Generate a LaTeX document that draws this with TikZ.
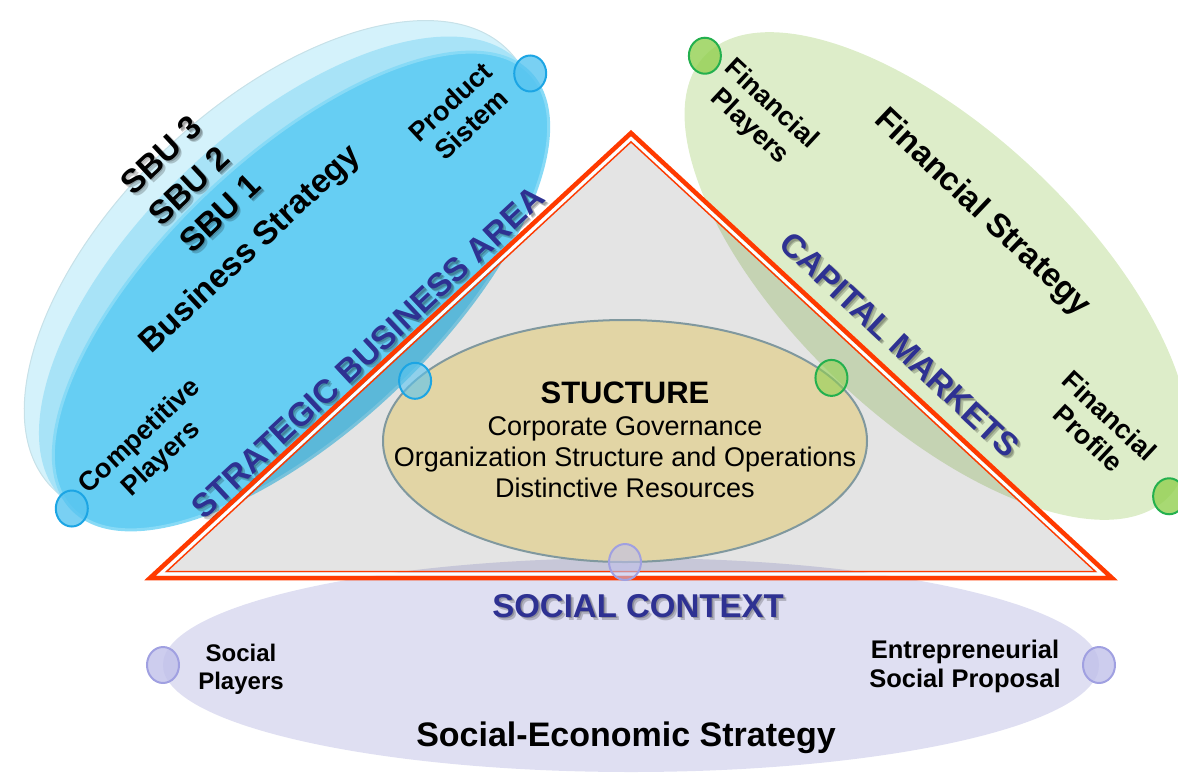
\documentclass[tikz,border=0pt]{standalone}
\usepackage{fontspec}
\setmainfont{Liberation Sans}
\usetikzlibrary{shapes.geometric}

\definecolor{sbuback}{RGB}{212,242,251}
\definecolor{sbumid}{RGB}{168,227,247}
\definecolor{sbufront}{RGB}{102,206,243}
\definecolor{sburim}{RGB}{135,218,246}
\definecolor{fingreen}{RGB}{221,237,201}
\definecolor{soclav}{RGB}{223,223,242}
\definecolor{strutan}{RGB}{226,213,165}
\definecolor{struedge}{RGB}{128,152,158}
\definecolor{trigray}{RGB}{228,228,228}
\definecolor{trired}{RGB}{255,58,0}
\definecolor{navy}{RGB}{46,49,146}
\definecolor{dotblue}{RGB}{28,165,228}
\definecolor{dotbluefill}{RGB}{88,196,240}
\definecolor{dotgreen}{RGB}{36,176,78}
\definecolor{dotgreenfill}{RGB}{146,208,80}
\definecolor{dotlav}{RGB}{160,160,225}
\definecolor{dotlavfill}{RGB}{192,192,234}

\tikzset{
  blob/.style={ellipse, inner sep=0pt, outer sep=0pt},
  spot/.style={ellipse, inner sep=0pt, minimum width=32pt, minimum height=36pt, line width=2pt, fill opacity=0.8},
  tag/.style={font=\fontsize{27}{31}\selectfont\bfseries, align=center, inner sep=0pt},
  big/.style={font=\fontsize{33}{38}\selectfont\bfseries, inner sep=0pt},
  area/.style={big, text=navy},
  haze/.style={text=black, text opacity=0.2},
}

\begin{document}
\begin{tikzpicture}[x=1pt,y=-1pt]
\clip (0,0) rectangle (1178,774);

% business strategy, one disc per SBU
\node[blob, fill=sbuback, draw=sbuback!85!gray, line width=1pt, minimum width=632pt, minimum height=332pt, rotate=43.5] (sbu3) at (280.4,269.2) {};
\node[blob, fill=sbumid, minimum width=632pt, minimum height=302pt, rotate=43.5] (sbu2) at (290.7,280.1) {};
\node[blob, fill=sbufront, draw=sburim, line width=3pt, minimum width=632pt, minimum height=272pt, rotate=43.5] (sbu1) at (301,291) {};

\node[blob, fill=fingreen, minimum width=640pt, minimum height=288pt, rotate=-43.5] (fin) at (937,276) {};
\node[blob, fill=soclav, minimum width=936pt, minimum height=214pt] (soc) at (631,665) {};

% the triangle
\coordinate (apex) at (631,133);
\coordinate (bl) at (150,578);
\coordinate (br) at (1112,578);
\coordinate (apex1) at (631,138.4);
\coordinate (bl1) at (160.2,574);
\coordinate (br1) at (1101.8,574);
\coordinate (apex2) at (631,141.9);
\coordinate (bl2) at (166.6,571.5);
\coordinate (br2) at (1095.4,571.5);
\fill[trigray, blend mode=multiply] (bl) -- (apex) -- (br) -- cycle;

\node[blob, fill=strutan, draw=struedge, line width=2pt, minimum width=484pt, minimum height=242pt] (stru) at (625,441) {};

\draw[white, line width=3pt] (bl1) -- (apex1) -- (br1) -- cycle;
\draw[trired, line width=1.4pt] (bl2) -- (apex2) -- (br2) -- cycle;
\draw[trired, line width=4.5pt, line join=miter] (bl) -- (apex) -- (br) -- cycle;

% dots
\node[spot, fill=dotbluefill, draw=dotblue] (pdot) at (sbu1.east) {};
\node[spot, fill=dotbluefill, draw=dotblue] (cdot) at (sbu1.west) {};
\node[spot, fill=dotbluefill, fill opacity=0.6, draw=dotblue] (sbdot) at (stru.164) {};
\node[spot, fill=dotgreenfill, draw=dotgreen] (fpdot) at (fin.west) {};
\node[spot, fill=dotgreenfill, draw=dotgreen] (frdot) at (fin.east) {};
\node[spot, fill=dotgreenfill, fill opacity=0.6, draw=dotgreen] (smdot) at (stru.17.5) {};
\node[spot, fill=dotlavfill, fill opacity=0.6, draw=dotlav] (socdot) at (stru.south) {};
\node[spot, fill=dotlavfill, draw=dotlav] (spdot) at (soc.west) {};
\node[spot, fill=dotlavfill, draw=dotlav] (epdot) at (soc.east) {};

% soft shadows under the headings
\foreach \d in {1.5,3} {
  \node[big, haze, rotate=43] (sbuc-\d) at (161+\d,155+\d) {SBU 3};
  \node[big, haze, rotate=43] (sbub-\d) at (189+\d,186+\d) {SBU 2};
  \node[big, haze, rotate=43] (sbua-\d) at (220+\d,213+\d) {SBU 1};
  \node[big, haze, rotate=43] (sba-\d) at (368+\d,352+\d) {STRATEGIC BUSINESS AREA};
  \node[big, haze, rotate=-43] (cap-\d) at (900+\d,345+\d) {CAPITAL MARKETS};
  \node[big, haze] (sctx-\d) at (638+\d,606+\d) {SOCIAL CONTEXT};
}

% labels
\node[big, rotate=43] (sbuc) at (161,155) {SBU 3};
\node[big, rotate=43] (sbub) at (189,186) {SBU 2};
\node[big, rotate=43] (sbua) at (220,213) {SBU 1};
\node[big, rotate=43] (bstrat) at (251,250) {Business Strategy};
\node[tag, rotate=43] (prod) at (461,113) {Product\\Sistem};
\node[tag, rotate=43] (comp) at (151,448) {Competitive\\Players};
\node[area, rotate=43] (sba) at (368,352) {STRATEGIC BUSINESS AREA};

\node[tag, rotate=-43] (fplay) at (760,116) {Financial\\Players};
\node[big, rotate=-43.5] (fstrat) at (982,213) {Financial Strategy};
\node[tag, rotate=-43] (fprof) at (1099,427) {Financial\\Profile};
\node[area, rotate=-43] (cap) at (900,345) {CAPITAL MARKETS};

\node[align=center, font=\fontsize{27}{31}\selectfont, inner sep=0pt] (stutxt) at (625,440)
  {{\bfseries\fontsize{31}{34}\selectfont STUCTURE}\\[1pt]Corporate Governance\\Organization Structure and Operations\\Distinctive Resources};

\node[area] (sctx) at (638,606) {SOCIAL CONTEXT};
\node[tag, font=\fontsize{24}{28}\selectfont\bfseries] (splay) at (241,669) {Social\\Players};
\node[tag, font=\fontsize{25.5}{29}\selectfont\bfseries] (eprop) at (965,666) {Entrepreneurial\\Social Proposal};
\node[big, font=\fontsize{34}{38}\selectfont\bfseries] (sestrat) at (626,738) {Social-Economic Strategy};
\end{tikzpicture}
\end{document}
